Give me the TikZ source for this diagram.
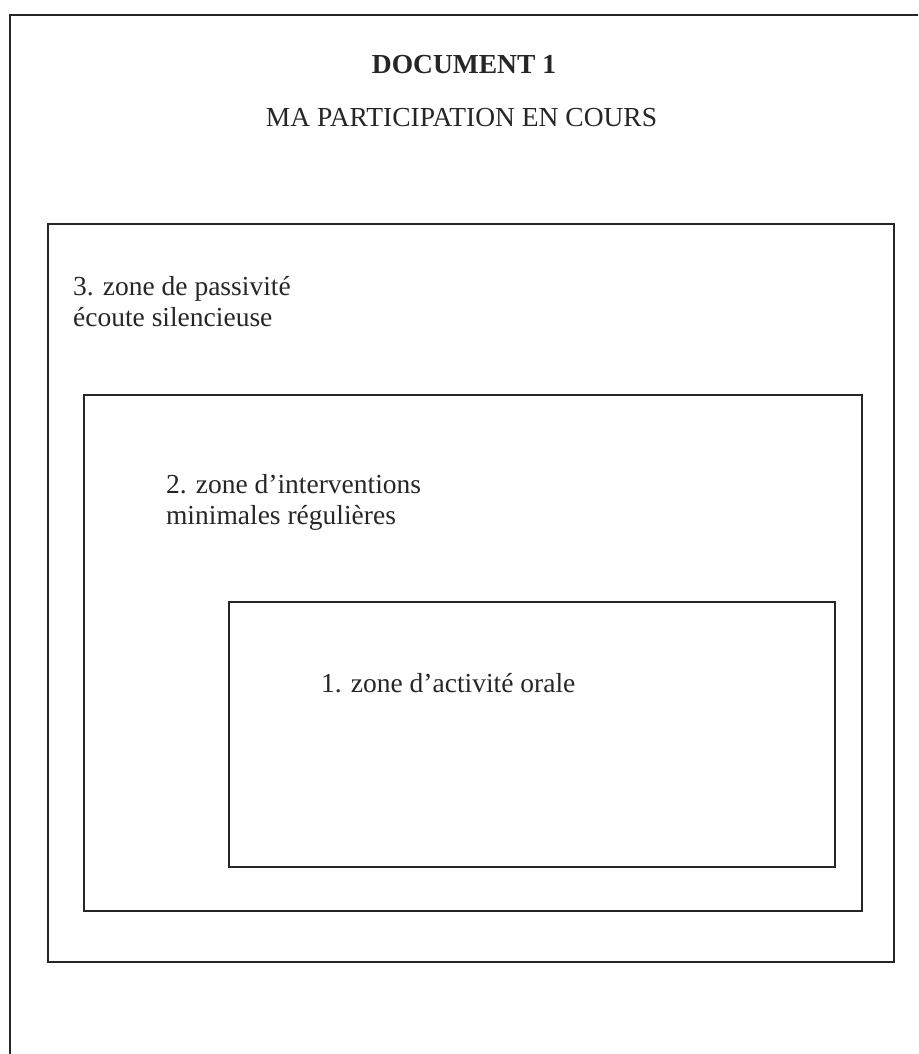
\documentclass[tikz,border=0pt]{standalone}
\usepackage{fontspec}
\setmainfont{Liberation Serif}

\begin{document}
\begin{tikzpicture}[x=1pt, y=-1pt, line width=2.2pt, draw=black!85,
	zonetext/.style={anchor=base west, align=left, inner sep=0pt, text=black!85,
		font=\fontsize{27.5}{31}\selectfont}]
	\useasboundingbox (0, 0) rectangle (918, 1054);
	\clip (0, 0) rectangle (918, 1054);
	\draw (10, 15) rectangle (940, 1075);
	\node [zonetext, anchor=base] (titre) at (464, 74) {\bfseries DOCUMENT 1};
	\node [zonetext, anchor=base] (soustitre) at (461.5, 127) {MA PARTICIPATION EN COURS};
	% zone 3 (base = derniere ligne)
	\draw (48, 224) rectangle (894, 962);
	\node [zonetext] (passif) at (72, 326) {3. zone de passivité\\écoute silencieuse};
	% zone 2
	\draw (84, 395) rectangle (862, 911);
	\node [zonetext] (minimal) at (165, 524) {2. zone d’interventions\\minimales régulières};
	% zone 1
	\draw (229, 602) rectangle (835, 867);
	\node [zonetext] (oral) at (320, 692) {1. zone d’activité orale};
\end{tikzpicture}
\end{document}
